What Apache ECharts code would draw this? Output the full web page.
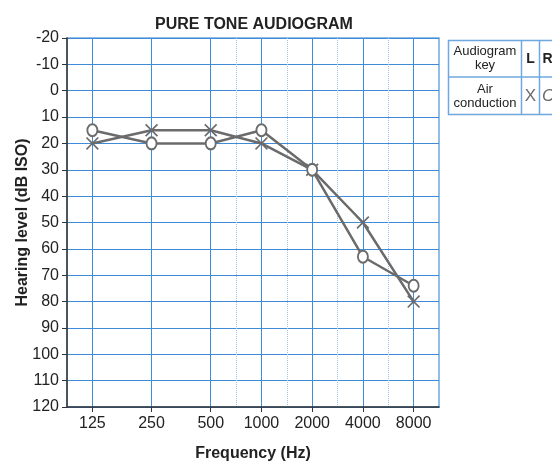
<!DOCTYPE html>
<html>
<head>
<meta charset="utf-8">
<script src="https://cdn.jsdelivr.net/npm/echarts@6/dist/echarts.min.js"></script>
<style>
  html, body { margin: 0; padding: 0; background: #fff; }
  #chart { width: 552px; height: 462px; }
</style>
</head>
<body>
<div id="chart"></div>
<script>
// audiogram data (dB HL), one value per octave frequency
var octaveFreqs = [125, 250, 500, 1000, 2000, 4000, 8000];
var halfOctaveFreqs = [750, 1500, 3000, 6000];
var leftEar = [20, 15, 15, 20, 30, 50, 80];   // X
var rightEar = [15, 20, 20, 15, 30, 63, 74];  // O
var levelTicks = { min: -20, max: 120, step: 10 };

// frequency scale of the form: low octaves are drawn a bit wider than the high ones,
// half-octave lines sit midway between their octaves
function octPos(i) {
    return i <= 2 ? 3 + 7 * i : 17 + 6 * (i - 2);
}
function freqPos(f) {
    var i = octaveFreqs.indexOf(f);
    if (i >= 0) return octPos(i);
    var j = octaveFreqs.indexOf(f / 1.5);
    return (octPos(j) + octPos(j + 1)) / 2;
}

var blue = '#3f8bd8';
var ink = '#222';
var markGray = '#6b6b6b';
var font = 'Liberation Sans, Arial, sans-serif';

var crossPath = 'path://M0,0.9 L0.9,0 L5,4.1 L9.1,0 L10,0.9 L5.9,5 L10,9.1 L9.1,10 L5,5.9 L0.9,10 L0,9.1 L4.1,5 Z';

var chart = echarts.init(document.getElementById('chart'));

var option = {
    animation: false,
    backgroundColor: '#fff',
    title: {
        text: 'PURE TONE AUDIOGRAM',
        left: 150,
        top: 12,
        textStyle: { fontSize: 16, fontWeight: 'bold', fontFamily: font, color: ink }
    },
    grid: {
        left: 67, top: 38, right: 113, bottom: 55,
        outerBoundsMode: 'none',
        show: true,
        borderColor: '#6fa8e0',
        borderWidth: 1.5
    },
    xAxis: [
        {
            type: 'value',
            min: 0, max: 44,
            position: 'bottom',
            name: 'Frequency (Hz)',
            nameLocation: 'middle',
            nameGap: 39,
            nameMoveOverlap: false,
            nameTextStyle: { fontSize: 16, fontWeight: 'bold', fontFamily: font, color: ink },
            axisLine: { show: true, onZero: false, lineStyle: { color: '#333', width: 1.5 } },
            axisTick: { show: true, length: 5, customValues: octaveFreqs.map(freqPos), lineStyle: { color: '#333' } },
            axisLabel: {
                customValues: octaveFreqs.map(freqPos),
                margin: 9,
                fontSize: 16, fontFamily: font, color: ink,
                formatter: function (v) {
                    for (var i = 0; i < octaveFreqs.length; i++) {
                        if (Math.abs(octPos(i) - v) < 1e-6) return String(octaveFreqs[i]);
                    }
                    return '';
                }
            },
            splitLine: { show: true, lineStyle: { color: blue, width: 1 } }
        },
        {
            // half-octave dotted lines
            type: 'value',
            min: 0, max: 44,
            position: 'bottom',
            axisLine: { show: false },
            axisTick: { show: false, customValues: halfOctaveFreqs.map(freqPos) },
            axisLabel: { show: false },
            splitLine: { show: true, lineStyle: { color: '#9cc4ea', width: 1, type: [1, 1] } }
        }
    ],
    yAxis: {
        type: 'value',
        inverse: true,
        min: levelTicks.min,
        max: levelTicks.max,
        interval: levelTicks.step,
        name: 'Hearing level (dB ISO)',
        nameLocation: 'middle',
        nameGap: 36,
        nameMoveOverlap: false,
        nameTextStyle: { fontSize: 16, fontWeight: 'bold', fontFamily: font, color: ink },
        axisLine: { show: true, lineStyle: { color: '#333', width: 1.5 } },
        axisTick: { show: true, length: 5, lineStyle: { color: '#333' } },
        axisLabel: { margin: 8, fontSize: 16, fontFamily: font, color: ink },
        splitLine: { show: true, lineStyle: { color: blue, width: 1 } }
    },
    series: [
        {
            name: 'L',
            type: 'line',
            data: leftEar.map(function (v, i) { return [octPos(i), v]; }),
            symbol: crossPath,
            symbolSize: 13,
            lineStyle: { color: markGray, width: 2.5 },
            itemStyle: { color: markGray },
            z: 3
        },
        {
            name: 'R',
            type: 'line',
            data: rightEar.map(function (v, i) { return [octPos(i), v]; }),
            symbol: 'emptyCircle',
            symbolSize: [10, 12],
            lineStyle: { color: markGray, width: 2.5 },
            itemStyle: { color: markGray, borderWidth: 2 },
            z: 4
        }
    ],
    graphic: [
        {
            type: 'group',
            left: 446,
            top: 38,
            children: [
                { type: 'rect', shape: { x: 0, y: 0, width: 120, height: 74 }, style: { fill: '#fff', stroke: '#6fa8e0', lineWidth: 1.5 } },
                { type: 'line', shape: { x1: 0, y1: 36.5, x2: 120, y2: 36.5 }, style: { stroke: '#6fa8e0', lineWidth: 1.5 } },
                { type: 'line', shape: { x1: 73, y1: 0, x2: 73, y2: 74 }, style: { stroke: '#6fa8e0', lineWidth: 1.5 } },
                { type: 'line', shape: { x1: 91, y1: 0, x2: 91, y2: 74 }, style: { stroke: '#6fa8e0', lineWidth: 1.5 } },
                { type: 'text', x: 36.5, y: 18, style: { text: 'Audiogram\nkey', fontSize: 13, lineHeight: 14, fontFamily: font, fill: ink, align: 'center', verticalAlign: 'middle' } },
                { type: 'text', x: 82, y: 19, style: { text: 'L', fontSize: 14, fontWeight: 'bold', fontFamily: font, fill: ink, align: 'center', verticalAlign: 'middle' } },
                { type: 'text', x: 99, y: 19, style: { text: 'R', fontSize: 14, fontWeight: 'bold', fontFamily: font, fill: ink, align: 'center', verticalAlign: 'middle' } },
                { type: 'text', x: 36.5, y: 55.5, style: { text: 'Air\nconduction', fontSize: 13, lineHeight: 14, fontFamily: font, fill: ink, align: 'center', verticalAlign: 'middle' } },
                { type: 'text', x: 82, y: 56, style: { text: 'X', fontSize: 17, fontFamily: font, fill: markGray, align: 'center', verticalAlign: 'middle' } },
                { type: 'text', x: 100, y: 56, style: { text: 'O', fontSize: 17, fontStyle: 'italic', fontFamily: font, fill: markGray, align: 'center', verticalAlign: 'middle' } }
            ]
        }
    ]
};

chart.setOption(option);
</script>
</body>
</html>
